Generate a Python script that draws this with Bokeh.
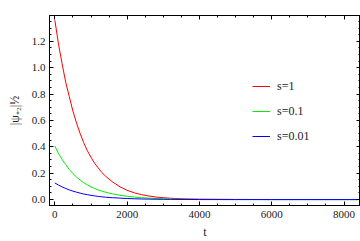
from bokeh.plotting import figure
from bokeh.models import (Range1d, LinearAxis, SingleIntervalTicker, Legend, LegendItem,
                          PrintfTickFormatter, CustomJSTickFormatter)
from bokeh.embed import file_html
from bokeh.resources import INLINE

t = [0, 100, 200, 300, 400, 500, 600, 700, 800, 900, 1000, 1100, 1200, 1300, 1400, 1500,
     1600, 1800, 2000, 2200, 2400, 2600, 2800, 3000, 3200, 3600, 4000, 5000, 6000, 7000, 8000, 8400]
red = [1.36, 1.18, 1.03, 0.89, 0.78, 0.67, 0.58, 0.50, 0.43, 0.37, 0.32, 0.275, 0.24, 0.205, 0.178, 0.155,
       0.133, 0.097, 0.07, 0.051, 0.037, 0.027, 0.019, 0.014, 0.010, 0.005, 0.003, 0.001, 0.0, 0.0, 0.0, 0.0]
green = [0.405, 0.35, 0.305, 0.265, 0.228, 0.197, 0.17, 0.148, 0.128, 0.111, 0.096, 0.084, 0.073, 0.064, 0.056, 0.049,
         0.043, 0.033, 0.025, 0.019, 0.014, 0.011, 0.008, 0.006, 0.004, 0.002, 0.001, 0.0, 0.0, 0.0, 0.0, 0.0]
blue = [0.126, 0.11, 0.096, 0.084, 0.073, 0.064, 0.056, 0.049, 0.042, 0.037, 0.032, 0.028, 0.024, 0.021, 0.018, 0.016,
        0.014, 0.011, 0.008, 0.006, 0.0045, 0.0035, 0.0025, 0.002, 0.0015, 0.001, 0.0, 0.0, 0.0, 0.0, 0.0, 0.0]
labels = ["s=1", "s=0.1", "s=0.01"]
colors = ["#ff0000", "#00ee00", "#0000ff"]

FONT = "'Liberation Serif', 'Times New Roman', serif"

p = figure(width=360, height=241, output_backend="svg", toolbar_location=None,
           x_range=Range1d(-148, 8455), y_range=Range1d(-0.045, 1.395),
           x_axis_location=None, y_axis_location=None,
           min_border_top=15, min_border_right=0, min_border_left=49, min_border_bottom=0)
p.grid.visible = False
p.outline_line_color = "black"
p.outline_line_width = 1
p.background_fill_color = "white"

def style(ax, labels_on=True):
    ax.axis_line_color = "black"
    ax.major_tick_in = 4
    ax.major_tick_out = 0
    ax.minor_tick_in = 2
    ax.minor_tick_out = 0
    ax.major_tick_line_color = "black"
    ax.minor_tick_line_color = "black"
    ax.major_label_text_font = FONT
    ax.major_label_text_font_size = "11px"
    ax.major_label_text_color = "#222222"
    ax.axis_label_text_font = FONT
    ax.axis_label_text_font_style = "normal"
    ax.axis_label_text_color = "#222222"
    if not labels_on:
        ax.formatter = CustomJSTickFormatter(code="return '';")
        ax.major_label_standoff = 0
        ax.major_label_text_font_size = "1px"
        ax.axis_label_standoff = 0

xt = SingleIntervalTicker(interval=2000, num_minor_ticks=4)
yt = SingleIntervalTicker(interval=0.2, num_minor_ticks=4)

xb = LinearAxis(ticker=xt, axis_label="t")
style(xb)
xb.major_label_standoff = 5
xb.axis_label_standoff = 4
xb.axis_label_text_font_size = "12px"
p.add_layout(xb, "below")

yl = LinearAxis(ticker=yt, axis_label="|ψ₊₂|½", formatter=PrintfTickFormatter(format="%.1f"))
style(yl)
yl.major_label_standoff = 4
yl.axis_label_standoff = 7
yl.axis_label_text_font_size = "12px"
p.add_layout(yl, "left")

xa = LinearAxis(ticker=SingleIntervalTicker(interval=2000, num_minor_ticks=4))
style(xa, False)
p.add_layout(xa, "above")

yr = LinearAxis(ticker=SingleIntervalTicker(interval=0.2, num_minor_ticks=4))
style(yr, False)
p.add_layout(yr, "right")

items = []
for vals, lab, col in zip([red, green, blue], labels, colors):
    r = p.line(t, vals, line_color=col, line_width=1)
    items.append(LegendItem(label=lab, renderers=[r]))

leg = Legend(items=items, location=(203, 59), border_line_color=None,
             background_fill_alpha=0, label_text_font=FONT, label_text_font_size="12px",
             label_text_color="#222222", glyph_width=18, glyph_height=20, label_height=20,
             spacing=5, padding=0, margin=0, label_standoff=7)
p.add_layout(leg, "center")

open("out.html", "w").write(file_html(p, INLINE))
